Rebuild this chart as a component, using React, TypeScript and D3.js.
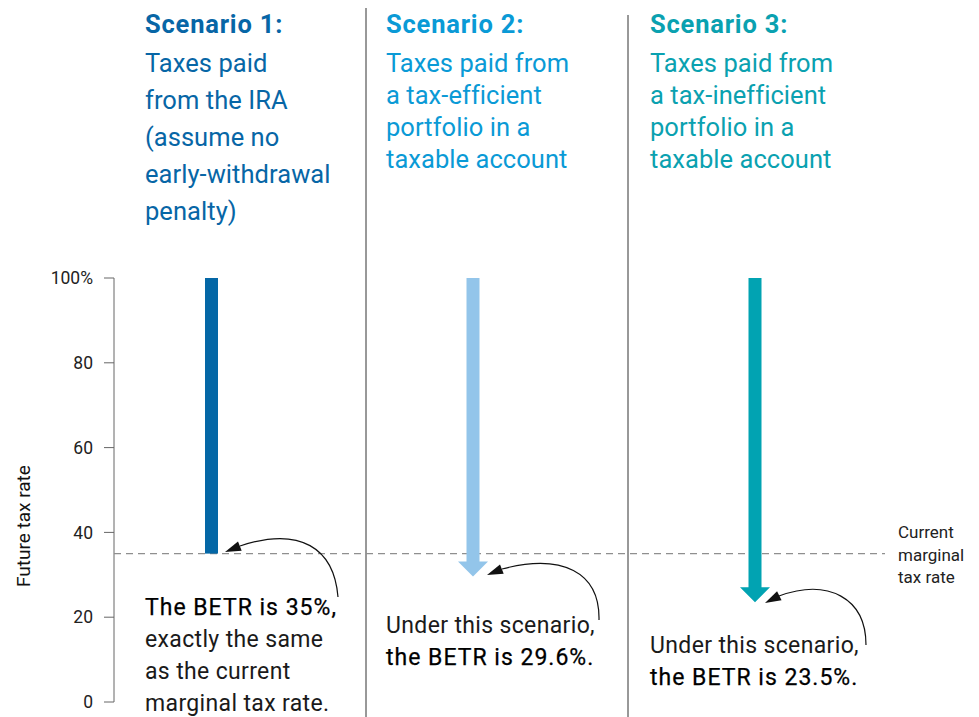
import React, { useEffect } from "react";
import * as d3 from "d3";

// ---------- data ----------
const scenarios = ["Scenario 1", "Scenario 2", "Scenario 3"];
const startRate = [100, 100, 100];
const betrValues = [35, 29.6, 23.5];
const currentMarginalRate = 35;
const yTicks = [0, 20, 40, 60, 80, 100];
const headerTitles = ["Scenario 1:", "Scenario 2:", "Scenario 3:"];
const headerLines = [
  ["Taxes paid", "from the IRA", "(assume no", "early-withdrawal", "penalty)"],
  ["Taxes paid from", "a tax-efficient", "portfolio in a", "taxable account"],
  ["Taxes paid from", "a tax-inefficient", "portfolio in a", "taxable account"],
];
const noteLines = [
  [
    { t: "The BETR is 35%,", b: true },
    { t: "exactly the same", b: false },
    { t: "as the current", b: false },
    { t: "marginal tax rate.", b: false },
  ],
  [
    { t: "Under this scenario,", b: false },
    { t: "the BETR is 29.6%.", b: true },
  ],
  [
    { t: "Under this scenario,", b: false },
    { t: "the BETR is 23.5%.", b: true },
  ],
];
const hasArrowHead = [false, true, true];
const currentRateLabel = ["Current", "marginal", "tax rate"];
const yAxisTitle = "Future tax rate";

// ---------- style / layout ----------
const W = 979;
const H = 717;
const headColors = ["#0766a6", "#0a9ad6", "#0aa1b0"];
const barColors = ["#0467a6", "#93c5ea", "#01a3b2"];
const FONT = "Roboto, 'Liberation Sans', Arial, sans-serif";

export default function App() {
  useEffect(() => {
    document.body.style.margin = "0";
  }, []);

  const y = d3.scaleLinear().domain([0, 100]).range([702, 278]);
  const barX = d3.scaleOrdinal<string, number>().domain(scenarios).range([211.5, 473, 755]);
  const textX = d3.scaleOrdinal<string, number>().domain(scenarios).range([145, 386, 650]);
  const dividerX = [366, 628];
  const dividerTop = [8, 15];
  const headerLineStep = [37, 32, 32];
  const noteTop = [615, 633, 653];
  const axisX = 114;
  const shaftW = 13;
  const headW = 30;
  const headH = 15;

  // annotation curves: [start, c1, c2, end(before head)], head tip
  const curves = [
    { p: [[338, 597], [334, 548], [300, 526], [240, 546]], tip: [225, 552] },
    { p: [[599, 620], [600, 572], [562, 553], [502, 569]], tip: [487, 575] },
    { p: [[866, 645], [866, 598], [828, 578], [779, 596]], tip: [765, 603] },
  ];

  const line = d3.line();

  return (
    <svg width={W} height={H} style={{ position: "absolute", left: 0, top: 0, fontFamily: FONT }}>
      <rect width={W} height={H} fill="#fff" />

      {/* dividers */}
      {dividerX.map((x, i) => (
        <line key={i} x1={x} x2={x} y1={dividerTop[i]} y2={H} stroke="#333" strokeWidth={1} />
      ))}

      {/* y axis */}
      <line x1={axisX} x2={axisX} y1={y(0)} y2={y(100)} stroke="#666" strokeWidth={1} />
      {yTicks.map((t) => (
        <g key={t}>
          <line x1={axisX - 10} x2={axisX} y1={y(t)} y2={y(t)} stroke="#666" strokeWidth={1} />
          <text x={93} y={y(t)} dy="0.35em" textAnchor="end" fontSize={17.5} fill="#222">
            {t === 100 ? "100%" : t}
          </text>
        </g>
      ))}
      <text
        transform={`translate(30,${y(41.5)}) rotate(-90)`}
        textAnchor="middle"
        fontSize={19}
        fill="#111"
      >
        {yAxisTitle}
      </text>

      {/* current marginal rate dashed line */}
      <line
        x1={axisX}
        x2={885}
        y1={y(currentMarginalRate)}
        y2={y(currentMarginalRate)}
        stroke="#8f8f8f"
        strokeWidth={1.2}
        strokeDasharray="7 5"
      />
      {currentRateLabel.map((l, i) => (
        <text key={i} x={898} y={538 + i * 22.5} fontSize={17} fill="#222">
          {l}
        </text>
      ))}

      {/* bars / arrows */}
      {scenarios.map((s, i) => {
        const cx = barX(s);
        const top = y(startRate[i]);
        const tipY = y(betrValues[i]);
        if (!hasArrowHead[i]) {
          return <rect key={s} x={cx - shaftW / 2} y={top} width={shaftW} height={tipY - top} fill={barColors[i]} />;
        }
        const pts: [number, number][] = [
          [cx - shaftW / 2, top],
          [cx + shaftW / 2, top],
          [cx + shaftW / 2, tipY - headH],
          [cx + headW / 2, tipY - headH],
          [cx, tipY],
          [cx - headW / 2, tipY - headH],
          [cx - shaftW / 2, tipY - headH],
        ];
        return <path key={s} d={line(pts) + "Z"} fill={barColors[i]} />;
      })}

      {/* headers */}
      {scenarios.map((s, i) => (
        <g key={s}>
          <text x={textX(s)} y={33} fontSize={25.5} fontWeight={700} letterSpacing={0.8} fill={headColors[i]}>
            {headerTitles[i]}
          </text>
          {headerLines[i].map((l, j) => (
            <text
              key={j}
              x={textX(s)}
              y={72 + j * headerLineStep[i]}
              fontSize={25.5}
              letterSpacing={0.05}
              fill={headColors[i]}
            >
              {l}
            </text>
          ))}
        </g>
      ))}

      {/* notes */}
      {scenarios.map((s, i) => (
        <g key={s}>
          {noteLines[i].map((l, j) => (
            <text
              key={j}
              x={textX(s)}
              y={noteTop[i] + j * 32}
              fontSize={23}
              letterSpacing={l.b ? 1.0 : 0.35}
              fill={l.b ? "#000" : "#1a1a1a"}
              stroke={l.b ? "#000" : "none"}
              strokeWidth={l.b ? 0.25 : 0}
            >
              {l.t}
            </text>
          ))}
        </g>
      ))}

      {/* annotation arrows */}
      {curves.map((c, i) => {
        const [p0, p1, p2, p3] = c.p;
        const d = `M${p0[0]},${p0[1]} C${p1[0]},${p1[1]} ${p2[0]},${p2[1]} ${p3[0]},${p3[1]}`;
        const [tx, ty] = c.tip;
        const dx = tx - p3[0];
        const dy = ty - p3[1];
        const len = Math.hypot(dx, dy);
        const ux = dx / len;
        const uy = dy / len;
        const hl = 16;
        const hw = 5;
        const bx = tx - ux * hl;
        const by = ty - uy * hl;
        const head = `M${tx},${ty} L${bx - uy * hw},${by + ux * hw} L${bx + uy * hw},${by - ux * hw} Z`;
        return (
          <g key={i}>
            <path d={d} fill="none" stroke="#111" strokeWidth={1.2} />
            <path d={head} fill="#111" />
          </g>
        );
      })}
    </svg>
  );
}
